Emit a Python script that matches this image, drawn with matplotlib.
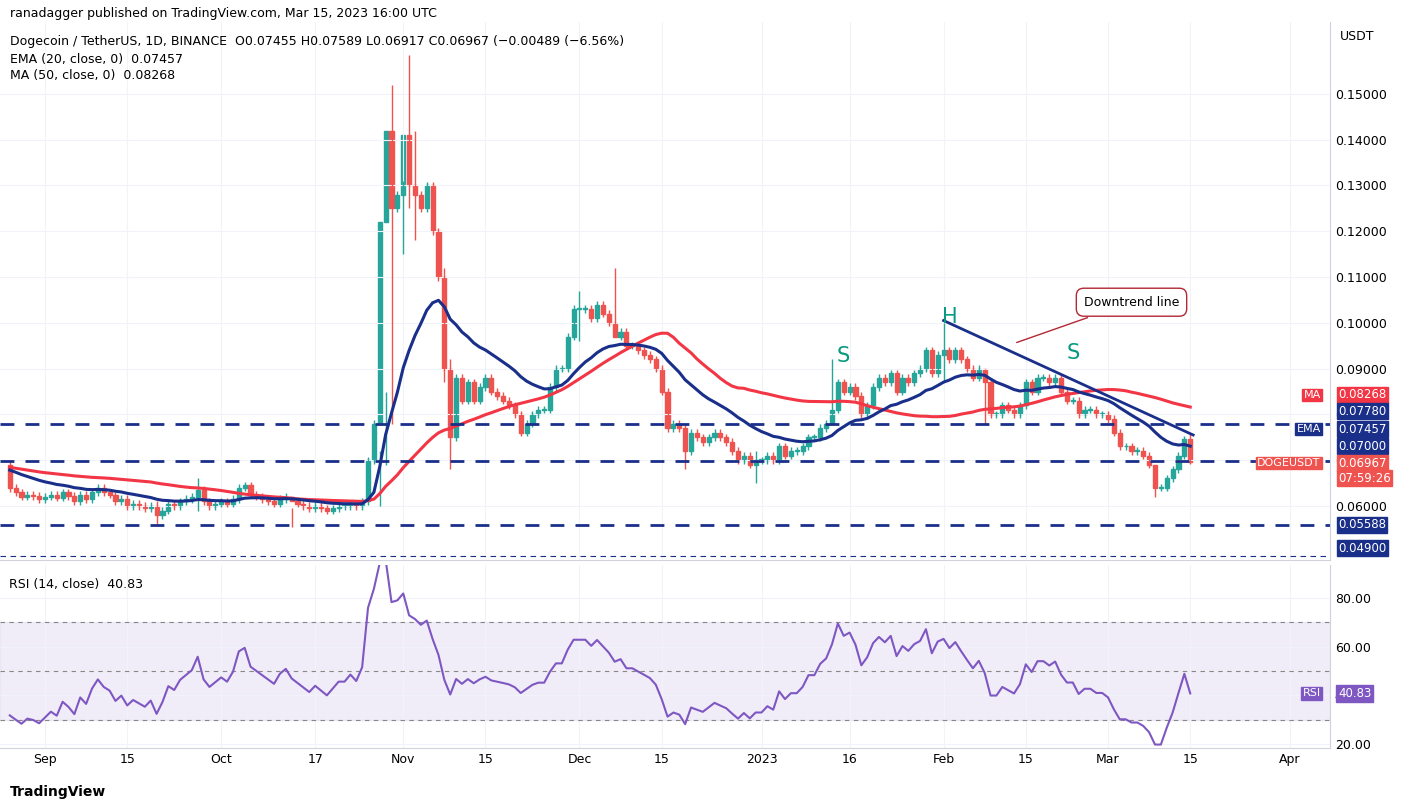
import numpy as np
import pandas as pd
import matplotlib.pyplot as plt
from matplotlib.patches import Rectangle

# closes before the visible window (used only to warm up the averages and RSI)
warmup = [0.0700, 0.0690, 0.0685, 0.0695, 0.0700, 0.0690, 0.0680, 0.0670, 0.0665, 0.0670,
          0.0680, 0.0690, 0.0700, 0.0720, 0.0750, 0.0730, 0.0700, 0.0680, 0.0670, 0.0665,
          0.0660, 0.0655, 0.0660, 0.0670, 0.0680]
# daily closes, Aug 26 2022 -> Mar 15 2023
closes = [0.0640, 0.0630, 0.0620, 0.0625, 0.0622, 0.0615,
          # Sep
          0.0620, 0.0625, 0.0618, 0.0630, 0.0622, 0.0610, 0.0625, 0.0615, 0.0630, 0.0640,
          0.0630, 0.0625, 0.0610, 0.0615, 0.0600, 0.0605, 0.0600, 0.0595, 0.0600, 0.0580,
          0.0590, 0.0605, 0.0600, 0.0610, 0.0615, 0.0620, 0.0635, 0.0610, 0.0600, 0.0605,
          # Oct
          0.0610, 0.0605, 0.0615, 0.0640, 0.0645, 0.0625, 0.0620, 0.0615, 0.0610, 0.0605,
          0.0615, 0.0620, 0.0610, 0.0605, 0.0600, 0.0595, 0.0600, 0.0595, 0.0590, 0.0595,
          0.0600, 0.0600, 0.0605, 0.0600, 0.0610, 0.0700, 0.0780, 0.1220, 0.1420, 0.1250,
          0.1280,
          # Nov
          0.1410, 0.1300, 0.1280, 0.1250, 0.1300, 0.1200, 0.1100, 0.0900, 0.0750, 0.0880,
          0.0830, 0.0870, 0.0830, 0.0860, 0.0880, 0.0850, 0.0840, 0.0830, 0.0820, 0.0800,
          0.0760, 0.0780, 0.0800, 0.0810, 0.0810, 0.0860, 0.0900, 0.0900, 0.0970, 0.1030,
          # Dec
          0.1030, 0.1030, 0.1010, 0.1040, 0.1020, 0.1000, 0.0970, 0.0980, 0.0950, 0.0950,
          0.0940, 0.0930, 0.0920, 0.0900, 0.0850, 0.0770, 0.0780, 0.0770, 0.0720, 0.0760,
          0.0750, 0.0740, 0.0750, 0.0760, 0.0750, 0.0740, 0.0720, 0.0700, 0.0710, 0.0690,
          0.0700,
          # Jan
          0.0700, 0.0710, 0.0700, 0.0730, 0.0710, 0.0720, 0.0720, 0.0730, 0.0750, 0.0750,
          0.0770, 0.0780, 0.0810, 0.0870, 0.0850, 0.0860, 0.0840, 0.0800, 0.0820, 0.0860,
          0.0880, 0.0870, 0.0890, 0.0850, 0.0880, 0.0870, 0.0890, 0.0900, 0.0940, 0.0890,
          0.0930,
          # Feb
          0.0940, 0.0920, 0.0940, 0.0920, 0.0900, 0.0880, 0.0900, 0.0870, 0.0800, 0.0800,
          0.0820, 0.0810, 0.0800, 0.0820, 0.0870, 0.0850, 0.0880, 0.0880, 0.0870, 0.0880,
          0.0850, 0.0830, 0.0830, 0.0800, 0.0810, 0.0810, 0.0800, 0.0800,
          # Mar
          0.0790, 0.0760, 0.0730, 0.0730, 0.0720, 0.0720, 0.0710, 0.0690, 0.0640, 0.0640,
          0.0660, 0.0680, 0.0710, 0.07455, 0.06967]
first_open = 0.0690
# wick extremes on notable days: day offset from Sep 1 -> (high, low)
wick_extremes = {-6: (0.0700, 0.0630), 19: (0.0610, 0.0560), 26: (0.0660, 0.0590),
                 42: (0.0595, 0.0555), 57: (0.0720, 0.0600), 58: (0.0850, 0.0690),
                 59: (0.1520, 0.0780), 61: (0.1310, 0.1150), 62: (0.1585, 0.1250),
                 63: (0.1420, 0.1180), 68: (0.1120, 0.0870), 69: (0.0920, 0.0680),
                 91: (0.1070, 0.0960), 97: (0.1120, 0.0990), 109: (0.0780, 0.0680),
                 121: (0.0720, 0.0650), 134: (0.0920, 0.0790), 153: (0.1000, 0.0870),
                 160: (0.0900, 0.0780), 189: (0.0650, 0.0620), 195: (0.0759, 0.06917)}

sep1 = pd.Timestamp("2022-09-01")
dates = pd.date_range("2022-08-26", periods=len(closes), freq="D")
x = np.array([(d - sep1).days for d in dates])
c = np.array(closes)
o = np.concatenate([[first_open], c[:-1]])
hi = np.maximum(o, c) + 0.0008
lo = np.minimum(o, c) - 0.0008
for k, (h, l) in wick_extremes.items():
    i = int(np.where(x == k)[0][0])
    hi[i], lo[i] = h, l

n0 = len(warmup)
s = pd.Series(warmup + closes)
ema20 = s.ewm(span=20, adjust=False).mean().iloc[n0:]
ma50 = s.rolling(50, min_periods=1).mean().iloc[n0:]
d = s.diff()
up = d.clip(lower=0).ewm(alpha=1/14, adjust=False).mean()
dn = (-d.clip(upper=0)).ewm(alpha=1/14, adjust=False).mean()
rsi = (100 - 100 / (1 + up / dn)).iloc[n0:]

tick_days = [0, 14, 30, 46, 61, 75, 91, 105, 122, 137, 153, 167, 181, 195, 212]
tick_labels = ["Sep", "15", "Oct", "17", "Nov", "15", "Dec", "15", "2023", "16",
               "Feb", "15", "Mar", "15", "Apr"]

W, H = 1409, 810
fig = plt.figure(figsize=(W/100, H/100), dpi=100)
xl = (-45/5.873, (1330-45)/5.873)
ax = fig.add_axes([0, (H-560)/H, 1330/W, 538/H])
ar = fig.add_axes([0, (H-748)/H, 1330/W, 183/H])
green, red = "#26a69a", "#ef5350"
for i in range(len(x)):
    col = green if c[i] >= o[i] else red
    ax.vlines(x[i], lo[i], hi[i], color=col, lw=1)
    ax.add_patch(Rectangle((x[i]-0.35, min(o[i], c[i])), 0.7,
                           max(abs(c[i]-o[i]), 0.0002), color=col))
ax.plot(x, ma50, color="#f23645", lw=2.2)
ax.plot(x, ema20, color="#1a2f8a", lw=2.2)
navy = "#1a2f8a"
ax.hlines([0.0778, 0.0698, 0.05588], xl[0], xl[1], colors=navy, linestyles=(0, (5, 4)), lw=2)
ax.hlines(0.0490, xl[0], xl[1], colors=navy, linestyles=(0, (5, 4)), lw=0.8)
ax.plot([153, 195.5], [0.1005, 0.0755], color=navy, lw=2)
for xx, yy, t in [(136, 0.0915, "S"), (154, 0.1000, "H"), (175, 0.0920, "S")]:
    ax.text(xx, yy, t, color="#089981", fontsize=15, ha="center")
ax.annotate("Downtrend line", xy=(165, 0.0955), xytext=(185, 0.1045), ha="center", va="center",
            fontsize=9, bbox=dict(boxstyle="round,pad=0.6", fc="white", ec="#b22833"),
            arrowprops=dict(arrowstyle="-", color="#b22833"))
ax.set_xlim(xl)
ax.set_ylim(0.0482, 0.1657)
ax.yaxis.tick_right()
ax.set_yticks(np.arange(0.06, 0.151, 0.01))
ax.set_yticklabels([f"{v:.5f}" for v in np.arange(0.06, 0.151, 0.01)])
ax.set_xticks(tick_days)
ax.tick_params(labelbottom=False, length=0, labelsize=9)
ax.grid(color="#f0f3fa")
for a in (ax, ar):
    for sp in a.spines.values():
        sp.set_color("#d0d3db")
    a.spines["top"].set_visible(False)
    a.spines["left"].set_visible(False)

# price tags, stacked at their label pixel rows like the reference
tags = [(395, "#f23645", "0.08268", "MA"), (411, navy, "0.07780", None),
        (429, navy, "0.07457", "EMA"), (446, navy, "0.07000", None),
        (463, red, "0.06967", "DOGEUSDT"), (478, red, "07:59:26", None),
        (525, navy, "0.05588", None), (548, navy, "0.04900", None)]
for py, col, lab, nm in tags:
    fy = 1 - (py - 22) / 538
    ax.text(1.006, fy, lab, transform=ax.transAxes, color="white", fontsize=8.5,
            va="center", bbox=dict(boxstyle="square,pad=0.12", fc=col, ec=col), clip_on=False)
    if nm:
        ax.text(0.993, fy, nm, transform=ax.transAxes, color="white", fontsize=8,
                va="center", ha="right", bbox=dict(boxstyle="square,pad=0.12", fc=col, ec=col))
fig.text(1340/W, 1-40/H, "USDT", fontsize=9)

ar.axhspan(30, 70, color="#7e57c2", alpha=0.1)
ar.hlines([30, 50, 70], xl[0], xl[1], colors="#888", linestyles=(0, (4, 4)), lw=0.8)
ar.plot(x, rsi, color="#7e57c2", lw=1.5)
ar.set_xlim(xl)
ar.set_ylim(18.4, 93.6)
ar.yaxis.tick_right()
ar.set_yticks([20, 40, 60, 80])
ar.set_yticklabels(["20.00", "40.00", "60.00", "80.00"])
ar.set_xticks(tick_days)
ar.set_xticklabels(tick_labels)
ar.tick_params(length=0, labelsize=9)
ar.grid(color="#f0f3fa")
r_last = rsi.iloc[-1]
ar.text(1.006, r_last, f"{r_last:.2f}", transform=ar.get_yaxis_transform(), color="white",
        fontsize=8.5, va="center", bbox=dict(boxstyle="square,pad=0.15", fc="#7e57c2", ec="#7e57c2"),
        clip_on=False)
ar.text(0.993, r_last, "RSI", transform=ar.get_yaxis_transform(), color="white", fontsize=8,
        va="center", ha="right", bbox=dict(boxstyle="square,pad=0.15", fc="#7e57c2", ec="#7e57c2"))
ar.text(0.007, 0.93, f"RSI (14, close)  {r_last:.2f}", transform=ar.transAxes, fontsize=9, va="top")

fig.text(10/W, 1-14/H, "ranadagger published on TradingView.com, Mar 15, 2023 16:00 UTC", fontsize=9, va="center")
fig.text(10/W, 1-42/H, "Dogecoin / TetherUS, 1D, BINANCE  O0.07455 H0.07589 L0.06917 C0.06967 (−0.00489 (−6.56%)",
         fontsize=9, va="center")
fig.text(10/W, 1-59/H, "EMA (20, close, 0)  0.07457", fontsize=9, va="center")
fig.text(10/W, 1-76/H, "MA (50, close, 0)  0.08268", fontsize=9, va="center")
fig.text(10/W, 1-792/H, "TradingView", fontsize=10, va="center", weight="bold")
fig.savefig("out.png", dpi=100)
